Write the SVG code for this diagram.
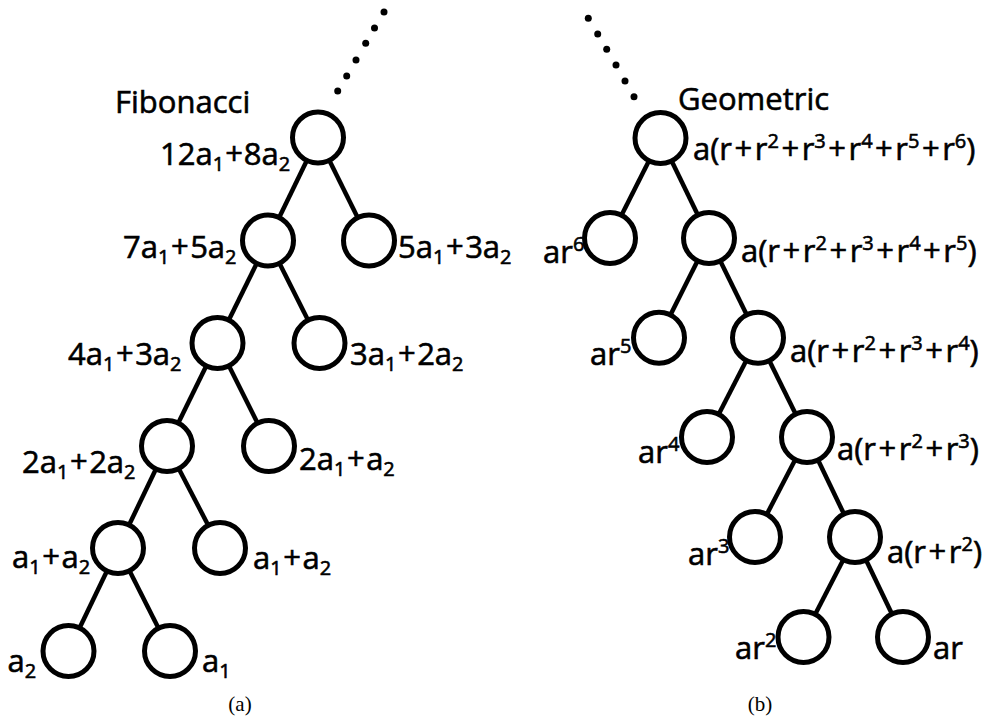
<svg xmlns="http://www.w3.org/2000/svg" width="982" height="718" viewBox="0 0 982 718">
<style>
.n{fill:#fff;stroke:#000;stroke-width:5}
.e line{stroke:#000;stroke-width:4.5}
.d circle{fill:#000}
text{font-family:"Open Sans","Noto Sans",sans-serif;font-size:31px;fill:#000;stroke:#000;stroke-width:0.6}
.s,.p{font-size:20px}
text.cap{font-family:"Liberation Serif","Times New Roman",serif;font-size:21px;stroke:none}
</style>
<rect width="982" height="718" fill="#fff"/>
<g id="connectors" class="e">
<line x1="318" y1="137.5" x2="268" y2="240.5"/>
<line x1="318" y1="137.5" x2="369" y2="240.5"/>
<line x1="268" y1="240.5" x2="217.5" y2="343"/>
<line x1="268" y1="240.5" x2="319.5" y2="343"/>
<line x1="217.5" y1="343" x2="167" y2="446"/>
<line x1="217.5" y1="343" x2="269" y2="446"/>
<line x1="167" y1="446" x2="118" y2="548"/>
<line x1="167" y1="446" x2="220" y2="548"/>
<line x1="118" y1="548" x2="68.5" y2="651"/>
<line x1="118" y1="548" x2="170" y2="651"/>
<line x1="660.5" y1="138" x2="610" y2="238"/>
<line x1="660.5" y1="138" x2="709" y2="238"/>
<line x1="709" y1="238" x2="659" y2="337.7"/>
<line x1="709" y1="238" x2="758" y2="337.7"/>
<line x1="758" y1="337.7" x2="707" y2="437"/>
<line x1="758" y1="337.7" x2="807" y2="437"/>
<line x1="807" y1="437" x2="755" y2="537"/>
<line x1="807" y1="437" x2="855" y2="537"/>
<line x1="855" y1="537" x2="803.5" y2="637"/>
<line x1="855" y1="537" x2="903" y2="637"/>
</g>
<g id="dots-fib" class="d">
<circle cx="384" cy="12" r="3.5"/><circle cx="374.5" cy="28" r="3.5"/><circle cx="365.7" cy="43.3" r="3.5"/><circle cx="356" cy="60" r="3.5"/><circle cx="346.7" cy="76" r="3.5"/><circle cx="337.7" cy="91" r="3.5"/>
</g>
<g id="dots-geo" class="d">
<circle cx="588.3" cy="18.3" r="3.5"/><circle cx="597.7" cy="34" r="3.5"/><circle cx="606.7" cy="49.3" r="3.5"/><circle cx="616" cy="65" r="3.5"/><circle cx="625" cy="81" r="3.5"/><circle cx="634" cy="96.7" r="3.5"/>
</g>
<text id="title-fib" x="115" y="113">Fibonacci</text>
<text id="title-geo" x="678" y="110">Geometric</text>
<g id="f1"><circle class="n" cx="318" cy="137.5" r="25.5"/><text x="160" y="165">12a<tspan class="s" dy="6">1</tspan><tspan dy="-6" dx="1">+</tspan><tspan dx="1">8a</tspan><tspan class="s" dy="6">2</tspan></text></g>
<g id="f2"><circle class="n" cx="268" cy="240.5" r="25.5"/><text x="123" y="258">7a<tspan class="s" dy="6">1</tspan><tspan dy="-6" dx="1.5">+</tspan><tspan dx="1.5">5a</tspan><tspan class="s" dy="6">2</tspan></text></g>
<g id="f3"><circle class="n" cx="369" cy="240.5" r="25.5"/><text x="398" y="258">5a<tspan class="s" dy="6">1</tspan><tspan dy="-6" dx="1.5">+</tspan><tspan dx="1.5">3a</tspan><tspan class="s" dy="6">2</tspan></text></g>
<g id="f4"><circle class="n" cx="217.5" cy="343" r="25.5"/><text x="68" y="365">4a<tspan class="s" dy="6">1</tspan><tspan dy="-6" dx="1.5">+</tspan><tspan dx="1.5">3a</tspan><tspan class="s" dy="6">2</tspan></text></g>
<g id="f5"><circle class="n" cx="319.5" cy="343" r="25.5"/><text x="350" y="365">3a<tspan class="s" dy="6">1</tspan><tspan dy="-6" dx="1.5">+</tspan><tspan dx="1.5">2a</tspan><tspan class="s" dy="6">2</tspan></text></g>
<g id="f6"><circle class="n" cx="167" cy="446" r="25.5"/><text x="22" y="473">2a<tspan class="s" dy="6">1</tspan><tspan dy="-6" dx="1.5">+</tspan><tspan dx="1.5">2a</tspan><tspan class="s" dy="6">2</tspan></text></g>
<g id="f7"><circle class="n" cx="269" cy="446" r="25.5"/><text x="299" y="470">2a<tspan class="s" dy="6">1</tspan><tspan dy="-6" dx="1.5">+</tspan><tspan dx="1.5">a</tspan><tspan class="s" dy="6">2</tspan></text></g>
<g id="f8"><circle class="n" cx="118" cy="548" r="25.5"/><text x="12" y="568">a<tspan class="s" dy="6">1</tspan><tspan dy="-6" dx="1.5">+</tspan><tspan dx="1.5">a</tspan><tspan class="s" dy="6">2</tspan></text></g>
<g id="f9"><circle class="n" cx="220" cy="548" r="25.5"/><text x="253" y="569">a<tspan class="s" dy="6">1</tspan><tspan dy="-6" dx="1.5">+</tspan><tspan dx="1.5">a</tspan><tspan class="s" dy="6">2</tspan></text></g>
<g id="f10"><circle class="n" cx="68.5" cy="651" r="25.5"/><text x="7.5" y="672">a<tspan class="s" dy="6">2</tspan></text></g>
<g id="f11"><circle class="n" cx="170" cy="651" r="25.5"/><text x="202" y="672">a<tspan class="s" dy="6">1</tspan></text></g>
<g id="g1"><circle class="n" cx="660.5" cy="138" r="25.5"/><text x="693" y="160">a(r<tspan dx="2.5">+</tspan><tspan dx="2.5">r</tspan><tspan class="p" dy="-12">2</tspan><tspan dy="12" dx="2.5">+</tspan><tspan dx="2.5">r</tspan><tspan class="p" dy="-12">3</tspan><tspan dy="12" dx="2.5">+</tspan><tspan dx="2.5">r</tspan><tspan class="p" dy="-12">4</tspan><tspan dy="12" dx="2.5">+</tspan><tspan dx="2.5">r</tspan><tspan class="p" dy="-12">5</tspan><tspan dy="12" dx="2.5">+</tspan><tspan dx="2.5">r</tspan><tspan class="p" dy="-12">6</tspan><tspan dy="12">)</tspan></text></g>
<g id="g2"><circle class="n" cx="610" cy="238" r="25.5"/><text x="543" y="263">ar<tspan class="p" dy="-12">6</tspan></text></g>
<g id="g3"><circle class="n" cx="709" cy="238" r="25.5"/><text x="741" y="262">a(r<tspan dx="2.5">+</tspan><tspan dx="2.5">r</tspan><tspan class="p" dy="-12">2</tspan><tspan dy="12" dx="2.5">+</tspan><tspan dx="2.5">r</tspan><tspan class="p" dy="-12">3</tspan><tspan dy="12" dx="2.5">+</tspan><tspan dx="2.5">r</tspan><tspan class="p" dy="-12">4</tspan><tspan dy="12" dx="2.5">+</tspan><tspan dx="2.5">r</tspan><tspan class="p" dy="-12">5</tspan><tspan dy="12">)</tspan></text></g>
<g id="g4"><circle class="n" cx="659" cy="337.7" r="25.5"/><text x="590" y="365">ar<tspan class="p" dy="-12">5</tspan></text></g>
<g id="g5"><circle class="n" cx="758" cy="337.7" r="25.5"/><text x="790" y="362">a(r<tspan dx="2.5">+</tspan><tspan dx="2.5">r</tspan><tspan class="p" dy="-12">2</tspan><tspan dy="12" dx="2.5">+</tspan><tspan dx="2.5">r</tspan><tspan class="p" dy="-12">3</tspan><tspan dy="12" dx="2.5">+</tspan><tspan dx="2.5">r</tspan><tspan class="p" dy="-12">4</tspan><tspan dy="12">)</tspan></text></g>
<g id="g6"><circle class="n" cx="707" cy="437" r="25.5"/><text x="638" y="462.5">ar<tspan class="p" dy="-12">4</tspan></text></g>
<g id="g7"><circle class="n" cx="807" cy="437" r="25.5"/><text x="837" y="460">a(r<tspan dx="2.5">+</tspan><tspan dx="2.5">r</tspan><tspan class="p" dy="-12">2</tspan><tspan dy="12" dx="2.5">+</tspan><tspan dx="2.5">r</tspan><tspan class="p" dy="-12">3</tspan><tspan dy="12">)</tspan></text></g>
<g id="g8"><circle class="n" cx="755" cy="537" r="25.5"/><text x="688" y="565">ar<tspan class="p" dy="-12">3</tspan></text></g>
<g id="g9"><circle class="n" cx="855" cy="537" r="25.5"/><text x="887" y="563">a(r<tspan dx="2.5">+</tspan><tspan dx="2.5">r</tspan><tspan class="p" dy="-12">2</tspan><tspan dy="12">)</tspan></text></g>
<g id="g10"><circle class="n" cx="803.5" cy="637" r="25.5"/><text x="735" y="659">ar<tspan class="p" dy="-12">2</tspan></text></g>
<g id="g11"><circle class="n" cx="903" cy="637" r="25.5"/><text x="933" y="659">ar</text></g>
<text class="cap" x="240" y="711" text-anchor="middle">(a)</text>
<text class="cap" x="760" y="711" text-anchor="middle">(b)</text>
</svg>
